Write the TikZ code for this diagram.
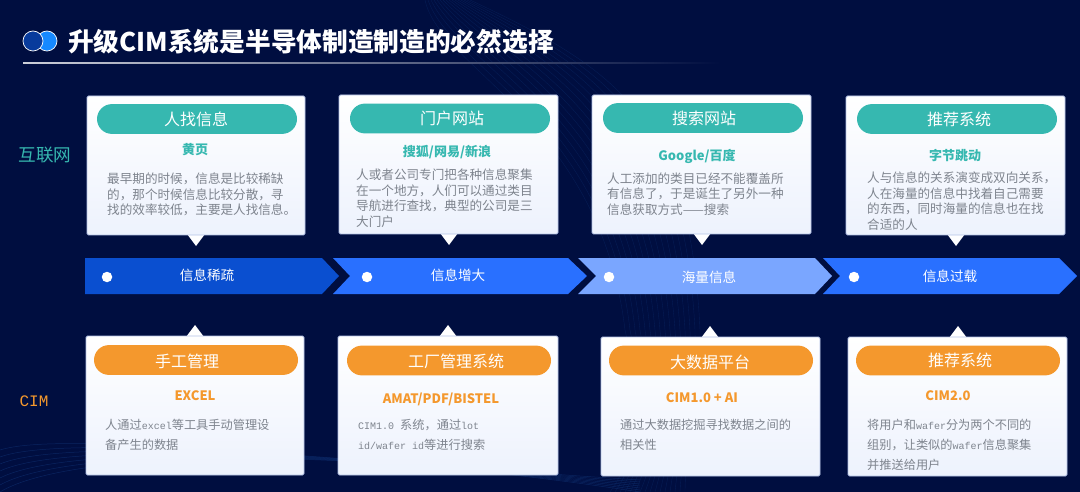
\documentclass[tikz,border=0pt]{standalone}
\usepackage{fontspec}
\setmainfont{Noto Sans CJK SC}
\newfontfamily\latmono{Liberation Mono}
\usepackage{xcolor}
\definecolor{bgblue}{HTML}{000E40}
\definecolor{waveblue}{HTML}{0C2A68}
\definecolor{tealpill}{HTML}{36B8B0}
\definecolor{orangepill}{HTML}{F4982D}
\definecolor{bodygray}{HTML}{7E848E}
\definecolor{cardedge}{HTML}{B4C2E6}
\definecolor{cardtint}{HTML}{EDF2FD}
\definecolor{arrowdark}{HTML}{0A4FD0}
\definecolor{arrowmid}{HTML}{2970FF}
\definecolor{arrowpale}{HTML}{7AA6FF}
\tikzset{card/.style={draw=cardedge,line width=0.8pt,rounded corners=1.5pt,top color=white,bottom color=cardtint,inner sep=0pt,minimum width=#1,minimum height=139pt},
    pill/.style={rounded corners=14.9pt,minimum width=#1,minimum height=29.8pt,inner sep=0pt},
    tealpillbox/.style={pill=200pt,fill=tealpill},
    orangepillbox/.style={pill=204pt,fill=orangepill},
    pilltext/.style={text=white,inner sep=0pt,font=\fontsize{16}{18}\selectfont},
    subtext/.style={inner sep=0pt,font=\fontsize{13}{15}\bfseries\selectfont},
    bodytext/.style={text=bodygray,inner sep=0pt,anchor=west,align=left,font=\fontsize{12.6}{15.5}\selectfont},
    looseline/.style={bodytext,font=\fontsize{12.2}{20}\selectfont},
    arrowtext/.style={text=white,inner sep=0pt,font=\fontsize{13.6}{15}\selectfont},
    dot/.style={circle,fill=white,inner sep=0pt,minimum size=10.5pt}}
\newcommand{\lat}[1]{{\latmono\fontsize{10}{10}\selectfont #1}}

\begin{document}
\begin{tikzpicture}[x=1pt,y=-1pt]
    \fill[bgblue] (0,0) rectangle (1080,492);
    \useasboundingbox (0,0) rectangle (1080,492);
    % faint lines behind the cards
    \foreach \i in {0,...,15}
        \draw[waveblue,line width=0.4pt,opacity=0.5] (425+\i*3,0) .. controls (440+\i*12,70) and (600+\i*6,120) .. (625+\i*5,330);
    \foreach \i in {0,...,15}
        \draw[waveblue,line width=0.4pt,opacity=0.5] (625+\i*5,330) .. controls (640+\i*4,400) and (640+\i*3,450) .. (610+\i*5,492);
    \foreach \i in {0,...,6}
        \draw[waveblue,line width=0.5pt,opacity=0.8] (0,492-\i*7) .. controls (60,\i*-4+455) and (300,\i*3+440) .. (640,492-\i*2);

    % title
    \node[circle,draw=white,line width=0.7pt,fill=arrowpale!30!cyan!60!blue,minimum size=20pt,inner sep=0pt] (iconb) at (47,41) {};
    \node[circle,draw=white,line width=0.7pt,fill=arrowdark!75!black,minimum size=20pt,inner sep=0pt] (icona) at (33,41) {};
    \node[text=white,inner sep=0pt,anchor=west,font=\fontsize{25.7}{30}\bfseries\selectfont] (title) at (68,42) {升级CIM系统是半导体制造制造的必然选择};
    \fill[left color=white!80!bgblue,right color=bgblue] (23,62.6) rectangle (720,63.6);

    % side labels
    \node[text=tealpill,inner sep=0pt,font=\fontsize{17.6}{20}\selectfont] (web) at (45,155) {互联网};
    \node[text=orangepill,inner sep=0pt,font=\latmono\fontsize{16}{18}\selectfont] (cim) at (34,401) {CIM};

    % timeline
    \fill[arrowdark] (85,258) -- (322,258) -- (339,276) -- (322,294) -- (85,294) -- cycle;
    \fill[arrowmid] (333,258) -- (568,258) -- (587,276) -- (568,294) -- (333,294) -- (350,276) -- cycle;
    \fill[arrowpale] (578,258) -- (815,258) -- (832,276) -- (815,294) -- (578,294) -- (596,276) -- cycle;
    \fill[arrowmid] (823,258) -- (1059,258) -- (1077,276) -- (1059,294) -- (823,294) -- (840,276) -- cycle;
    \node[dot] (dota) at (107,277) {};
    \node[dot] (dotb) at (367,277) {};
    \node[dot] (dotc) at (609,277) {};
    \node[dot] (dotd) at (854,277) {};
    \node[arrowtext] (stagea) at (207,275) {信息稀疏};
    \node[arrowtext] (stageb) at (458,275) {信息增大};
    \node[arrowtext] (stagec) at (709,277) {海量信息};
    \node[arrowtext] (staged) at (950,276) {信息过载};

    % pointers
    \foreach \x/\y in {196/235,449/234,702/234,956/235}
        \fill[white!97!cardtint] (\x-9,\y-1) -- (\x+9,\y-1) -- (\x,\y+11) -- cycle;
    \foreach \x/\y in {195/336,448/336,710/337,958/337}
        \fill[white] (\x-9,\y+1) -- (\x+9,\y+1) -- (\x,\y-11) -- cycle;

    % internet cards
    \node[card=218pt] (carda) at (196,165.5) {};
    \node[card=219pt] (cardb) at (448.5,164.5) {};
    \node[card=219pt] (cardc) at (701.5,164.5) {};
    \node[card=219pt] (cardd) at (955.5,165.5) {};
    \node[tealpillbox] (pilla) at (197,119) {};
    \node[tealpillbox] (pillb) at (450,118.5) {};
    \node[tealpillbox] (pillc) at (703,118) {};
    \node[tealpillbox] (pilld) at (957,119) {};
    \node[pilltext] (labela) at (196,119) {人找信息};
    \node[pilltext] (labelb) at (452,118) {门户网站};
    \node[pilltext] (labelc) at (704,118) {搜索网站};
    \node[pilltext] (labeld) at (959,119) {推荐系统};
    \node[subtext,text=tealpill] (suba) at (195,150) {黄页};
    \node[subtext,text=tealpill] (subb) at (447,152) {搜狐/网易/新浪};
    \node[subtext,text=tealpill] (subc) at (697,156) {Google/百度};
    \node[subtext,text=tealpill] (subd) at (955,156) {字节跳动};
    \node[bodytext] (bodya) at (107,194.5) {最早期的时候，信息是比较稀缺\\的，那个时候信息比较分散，寻\\找的效率较低，主要是人找信息。};
    \node[bodytext] (bodyb) at (356,198) {人或者公司专门把各种信息聚集\\在一个地方，人们可以通过类目\\导航进行查找，典型的公司是三\\大门户};
    \node[bodytext] (bodyc) at (607,194) {人工添加的类目已经不能覆盖所\\有信息了，于是诞生了另外一种\\信息获取方式——搜索};
    \node[bodytext] (bodyd) at (867,201) {人与信息的关系演变成双向关系，\\人在海量的信息中找着自己需要\\的东西，同时海量的信息也在找\\合适的人};

    % cim cards
    \node[card=218pt] (cardw) at (195,405.5) {};
    \node[card=220pt] (cardx) at (448,405.5) {};
    \node[card=219pt] (cardy) at (710.5,406.5) {};
    \node[card=219pt] (cardz) at (957.5,406.5) {};
    \node[orangepillbox] (pillw) at (196,360) {};
    \node[orangepillbox] (pillx) at (449,360.5) {};
    \node[orangepillbox] (pilly) at (711,360.5) {};
    \node[orangepillbox] (pillz) at (958,360.5) {};
    \node[pilltext] (labelw) at (187,361) {手工管理};
    \node[pilltext] (labelx) at (456,361) {工厂管理系统};
    \node[pilltext] (labely) at (710,362) {大数据平台};
    \node[pilltext] (labelz) at (960,360) {推荐系统};
    \node[subtext,text=orangepill] (subw) at (195,396) {EXCEL};
    \node[subtext,text=orangepill] (subx) at (441,399) {AMAT/PDF/BISTEL};
    \node[subtext,text=orangepill] (suby) at (702,398) {CIM1.0 + AI};
    \node[subtext,text=orangepill] (subz) at (948,396) {CIM2.0};
    \node[looseline] (bodyw) at (105,435) {人通过\lat{excel}等工具手动管理设\\备产生的数据};
    \node[looseline] (bodyx) at (358,435) {\lat{CIM1.0 }系统，通过\lat{lot}\\\lat{id/wafer id}等进行搜索};
    \node[looseline] (bodyy) at (620,435) {通过大数据挖掘寻找数据之间的\\相关性};
    \node[looseline] (bodyz) at (867,444.5) {将用户和\lat{wafer}分为两个不同的\\组别，让类似的\lat{wafer}信息聚集\\并推送给用户};
\end{tikzpicture}
\end{document}
